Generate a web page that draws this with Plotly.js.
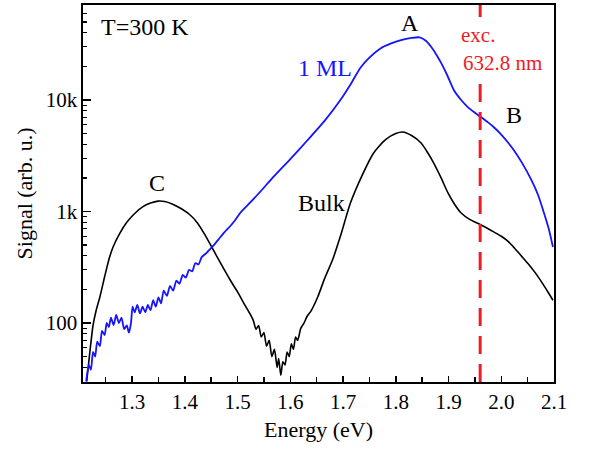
<!DOCTYPE html>
<html>
<head>
<meta charset="utf-8">
<script src="https://cdn.plot.ly/plotly-3.0.1.min.js"></script>
<style>html,body{margin:0;padding:0;background:#fff;}#chart{width:592px;height:450px;}</style>
</head>
<body>
<div id="chart"></div>
<script>
// 1 ML spectrum (energy eV, signal)
var mlEnergy = [1.213,1.218,1.222,1.226,1.230,1.234,1.239,1.243,1.248,1.252,1.256,1.260,1.265,1.270,1.275,1.280,1.285,1.290,1.294,1.298,
  1.301,1.305,1.310,1.315,1.320,1.325,1.330,1.335,1.340,1.345,1.350,1.355,1.360,1.366,1.372,1.378,1.384,1.390,1.396,1.402,
  1.408,1.414,1.420,1.426,1.432,1.440,1.448,1.455,1.465,1.475,1.485,1.495,1.505,1.520,1.540,1.568,1.600,1.633,1.665,1.695,
  1.715,1.733,1.750,1.771,1.790,1.810,1.830,1.845,1.857,1.867,1.877,1.886,1.898,1.910,1.924,1.937,1.950,1.962,1.975,1.986,
  2.000,2.012,2.024,2.040,2.057,2.070,2.081,2.090,2.098];
var mlSignal = [30,42,38,55,50,68,62,85,78,100,92,112,96,118,100,112,88,95,82,100,
  140,125,145,122,140,125,145,130,160,140,170,150,195,175,215,195,240,225,270,255,
  300,290,345,335,390,420,460,500,570,650,730,830,970,1150,1450,2040,2950,4380,6500,10000,
  14000,19500,24000,29000,32000,34500,36000,36500,34000,30000,25500,21500,16500,12300,10000,8600,7700,7000,6300,5700,
  4900,4200,3550,2700,1920,1400,970,700,480];

// Bulk spectrum
var bulkEnergy = [1.214,1.220,1.226,1.232,1.239,1.248,1.256,1.264,1.277,1.290,1.305,1.320,1.335,1.349,1.362,1.376,1.391,1.408,1.424,1.438,
  1.452,1.470,1.486,1.500,1.512,1.524,1.530,1.535,1.540,1.545,1.550,1.555,1.560,1.565,1.570,1.575,1.578,1.582,1.586,1.590,
  1.594,1.598,1.602,1.606,1.610,1.614,1.620,1.626,1.632,1.640,1.652,1.665,1.680,1.695,1.714,1.736,1.758,1.780,1.800,1.813,
  1.830,1.848,1.860,1.872,1.886,1.899,1.912,1.924,1.940,1.962,1.980,2.000,2.013,2.025,2.038,2.051,2.065,2.080,2.090,2.098];
var bulkSignal = [30,55,95,130,171,260,370,481,640,800,960,1100,1190,1240,1230,1170,1075,950,790,620,
  471,330,243,190,150,120,105,88,95,75,82,62,70,50,58,40,48,34,45,42,
  55,50,65,58,75,70,90,100,115,130,171,250,367,600,1190,2100,3350,4400,5000,5160,
  4800,4110,3400,2720,2000,1466,1150,970,850,757,680,600,540,470,400,340,280,220,185,160];

var excitationEV = 1.96;
var xTickVals = [1.3,1.4,1.5,1.6,1.7,1.8,1.9,2.0,2.1];
var xTickText = ['1.3','1.4','1.5','1.6','1.7','1.8','1.9','2.0','2.1'];
var xMinorVals = [1.25,1.35,1.45,1.55,1.65,1.75,1.85,1.95,2.05];
var yTickVals = [100,1000,10000];
var yTickText = ['100','1k','10k'];
var yMinorVals = [40,50,60,70,80,90,200,300,400,500,600,700,800,900,2000,3000,4000,5000,6000,7000,8000,9000,20000,30000,40000,50000,60000,70000];

var traces = [
  {x: bulkEnergy, y: bulkSignal, type:'scatter', mode:'lines', line:{color:'#000000', width:1.6, shape:'spline', smoothing:0.6}, hoverinfo:'skip'},
  {x: mlEnergy, y: mlSignal, type:'scatter', mode:'lines', line:{color:'#1414ff', width:1.8, shape:'spline', smoothing:0.6}, hoverinfo:'skip'}
];

var F = "'Liberation Serif', 'Times New Roman', Times, serif";
function ann(text, x, y, color, size){
  return {text:text, xref:'paper', yref:'paper', x:x, y:y, xanchor:'center', yanchor:'middle', showarrow:false,
    font:{family:F, size:size||24, color:color||'#000'}};
}

var layout = {
  width:592, height:450,
  margin:{l:83, r:38, t:5, b:68},
  paper_bgcolor:'#fff', plot_bgcolor:'#fff',
  font:{family:F, size:21, color:'#000'},
  showlegend:false,
  xaxis:{range:[1.207,2.1], tickmode:'array', tickvals:xTickVals, ticktext:xTickText,
    ticks:'inside', ticklen:6, tickwidth:1.5, tickcolor:'#000',
    showline:true, linewidth:1.6, linecolor:'#000', mirror:true, showgrid:false, zeroline:false,
    tickfont:{family:F, size:21},
    minor:{tickmode:'array', tickvals:xMinorVals, ticks:'inside', ticklen:5, tickwidth:1.5, tickcolor:'#000', showgrid:false},
    title:{text:'Energy (eV)', font:{family:F, size:22}, standoff:9}},
  yaxis:{type:'log', range:[1.471,4.852], tickmode:'array', tickvals:yTickVals, ticktext:yTickText,
    ticks:'inside', ticklen:8, tickwidth:1.5, tickcolor:'#000',
    showline:true, linewidth:1.6, linecolor:'#000', mirror:true, showgrid:false, zeroline:false,
    tickfont:{family:F, size:21},
    minor:{tickmode:'array', tickvals:yMinorVals, ticks:'inside', ticklen:4, tickwidth:1.2, tickcolor:'#000', showgrid:false},
    title:{text:'Signal (arb. u.)', font:{family:F, size:22}, standoff:7}},
  shapes:[
    {type:'line', xref:'x', yref:'paper', x0:excitationEV, x1:excitationEV, y0:0, y1:0.793,
      line:{color:'#ee1c24', width:3, dash:'18px,10px'}},
    {type:'line', xref:'x', yref:'paper', x0:excitationEV, x1:excitationEV, y0:0.968, y1:1,
      line:{color:'#ee1c24', width:3}}
  ],
  annotations:[
    ann('T=300 K', 0.1316, 0.9416),
    ann('1 ML', 0.514, 0.833, '#1414ff'),
    ann('A', 0.694, 0.952),
    ann('exc.', 0.839, 0.920, '#ee1c24', 21),
    ann('632.8 nm', 0.890, 0.846, '#ee1c24', 21),
    ann('B', 0.915, 0.708),
    ann('C', 0.157, 0.528),
    ann('Bulk', 0.507, 0.475)
  ]
};

Plotly.newPlot('chart', traces, layout, {staticPlot:true, displayModeBar:false});
</script>
</body>
</html>
